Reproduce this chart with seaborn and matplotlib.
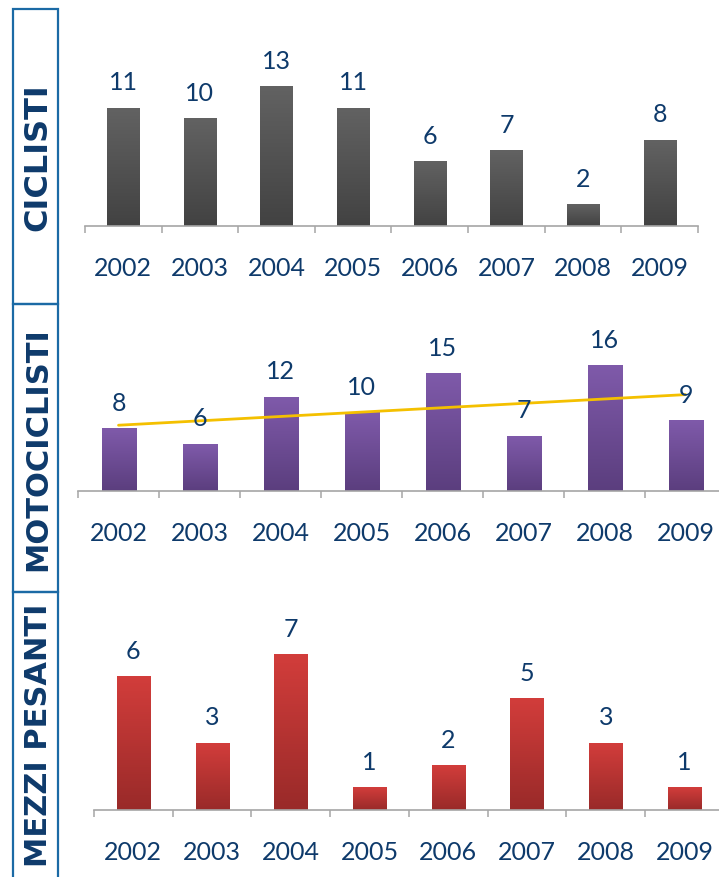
import numpy as np
import pandas as pd
import seaborn as sns
import matplotlib.pyplot as plt
from matplotlib.colors import LinearSegmentedColormap
from matplotlib.patches import Rectangle

# Data
years = ['2002', '2003', '2004', '2005', '2006', '2007', '2008', '2009']
ciclisti = [11, 10, 13, 11, 6, 7, 2, 8]
motociclisti = [8, 6, 12, 10, 15, 7, 16, 9]
mezzi_pesanti = [6, 3, 7, 1, 2, 5, 3, 1]

NAVY = '#0e3a6b'
BOX_BLUE = '#1b6aa5'
AXIS_GRAY = '#a6a6a6'

sns.set_theme(style='white')
plt.rcParams['font.family'] = ['Lato', 'DejaVu Sans']


def gradient_bars(ax, top_color, bottom_color):
    """Paint each bar with a vertical gradient, darker at the base."""
    cmap = LinearSegmentedColormap.from_list('g', [bottom_color, top_color])
    grad = np.linspace(0, 1, 128).reshape(-1, 1)
    for bar in list(ax.patches):
        x0, w, h = bar.get_x(), bar.get_width(), bar.get_height()
        bar.set_facecolor(bottom_color)
        bar.set_edgecolor('none')
        ax.imshow(grad, extent=[x0, x0 + w, 0, h], origin='lower',
                  aspect='auto', cmap=cmap, zorder=bar.get_zorder() + 0.1)


def draw_panel(ax, values, top_color, bottom_color, ymax, pad):
    df = pd.DataFrame({'year': years, 'value': values})
    sns.barplot(data=df, x='year', y='value', ax=ax, width=0.42,
                color=bottom_color, saturation=1)
    gradient_bars(ax, top_color, bottom_color)
    for i, v in enumerate(values):
        ax.annotate(str(v), (i, v), xytext=(0, 19), textcoords='offset points',
                    ha='center', va='center', fontsize=18, color=NAVY, zorder=5)
    ax.set_xlim(-0.5, len(years) - 0.5)
    ax.set_ylim(0, ymax)
    ax.set_xlabel('')
    ax.set_ylabel('')
    ax.set_yticks([])
    for side in ['left', 'right', 'top']:
        ax.spines[side].set_visible(False)
    ax.spines['bottom'].set_color(AXIS_GRAY)
    ax.spines['bottom'].set_linewidth(1.2)
    ax.set_xticks(np.arange(-0.5, len(years)), minor=True)
    ax.tick_params(axis='x', which='major', length=0, pad=pad,
                   labelsize=18, labelcolor=NAVY)
    ax.tick_params(axis='x', which='minor', bottom=True, direction='out',
                   length=5, width=1.1, color=AXIS_GRAY)
    ax.patch.set_alpha(0)


fig = plt.figure(figsize=(7.19, 8.78), dpi=100)

# panel axes placed in figure fractions
ax1 = fig.add_axes([0.1182, 0.7415, 0.8526, 0.2130])
ax2 = fig.add_axes([0.1085, 0.4396, 0.9013, 0.1959])
ax3 = fig.add_axes([0.1307, 0.0763, 0.8760, 0.2289])

draw_panel(ax1, ciclisti, '#626262', '#424242', 17.45, 21.5)
draw_panel(ax2, motociclisti, '#7f5aaa', '#5b3e7e', 22.0, 21.5)
draw_panel(ax3, mezzi_pesanti, '#d23d3b', '#992a29', 9.05, 21.5)

# linear trend on the motociclisti panel
sns.regplot(x=np.arange(len(years)), y=np.array(motociclisti), ax=ax2,
            scatter=False, ci=None, truncate=True,
            line_kws={'color': '#f4c000', 'lw': 2, 'zorder': 4})
ax2.set_xlim(-0.5, len(years) - 0.5)
ax2.set_ylim(0, 22.0)

# side boxes with the category titles
boxes = [
    (0.6526, 0.3360, 'CICLISTI', 23),
    (0.3246, 0.3280, 'MOTOCICLISTI', 22),
    (-0.02, 0.3446, 'MEZZI PESANTI', 22),
]
for y0, h, label, size in boxes:
    fig.patches.append(Rectangle((0.0181, y0), 0.0626, h, transform=fig.transFigure,
                                 fill=False, edgecolor=BOX_BLUE, lw=1.6))
    yc = (max(y0, 0) + y0 + h) / 2
    fig.text(0.0529, yc, label, rotation=90, ha='center', va='center',
             fontsize=size, fontweight='bold', color=NAVY, family='DejaVu Sans')

fig.savefig('out.png', dpi=100)
